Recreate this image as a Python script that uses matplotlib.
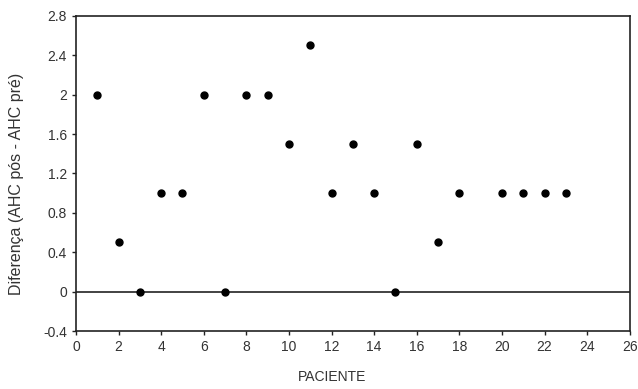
import numpy as np
import matplotlib.pyplot as plt

plt.rcParams['font.family'] = ['Liberation Sans', 'DejaVu Sans']

paciente = [1, 2, 3, 4, 5, 6, 7, 8, 9, 10, 11, 12, 13, 14, 15, 16, 17, 18, 20, 21, 22, 23]
diferenca = [2, 0.5, 0, 1, 1, 2, 0, 2, 2, 1.5, 2.5, 1, 1.5, 1, 0, 1.5, 0.5, 1, 1, 1, 1, 1]

fig = plt.figure(figsize=(6.38, 3.89), dpi=100)
ax = fig.add_axes([0.119, 0.149, 0.868, 0.810])

ax.axhline(0, color='#222222', linewidth=1.2, zorder=1)
ax.plot(paciente, diferenca, 'o', color='black', markersize=5, zorder=3)

ax.set_xlim(0, 26)
ax.set_ylim(-0.4, 2.8)
ax.set_xticks(np.arange(0, 27, 2))
ax.set_yticks(np.arange(-0.4, 2.81, 0.4))
ax.set_yticklabels(['-0.4', '0', '0.4', '0.8', '1.2', '1.6', '2', '2.4', '2.8'])

for s in ax.spines.values():
	s.set_color('#222222')
	s.set_linewidth(1.2)

ax.tick_params(direction='out', length=3, width=1, colors='#222222',
	labelsize=10, labelcolor='#333333')
ax.set_xlabel('PACIENTE', fontsize=10, color='#333333')
ax.xaxis.set_label_coords(0.462, -0.125)
ax.set_ylabel('Diferença (AHC pós - AHC pré)', fontsize=11.5, color='#333333')
ax.yaxis.set_label_coords(-0.093, 0.467)

fig.savefig('out.png', dpi=100)
